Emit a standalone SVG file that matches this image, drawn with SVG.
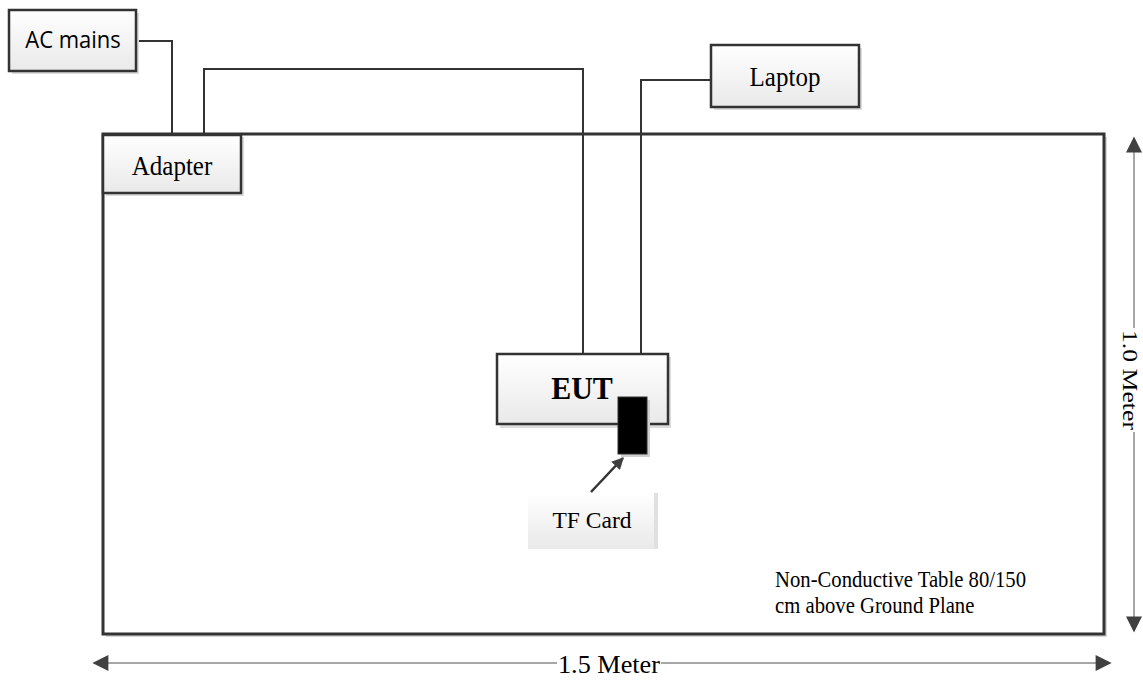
<svg xmlns="http://www.w3.org/2000/svg" width="1143" height="680" viewBox="0 0 1143 680">
<defs>
<linearGradient id="g" x1="0" y1="0" x2="0" y2="1">
<stop offset="0" stop-color="#ffffff"/>
<stop offset="1" stop-color="#e9e9e9"/>
</linearGradient>
<marker id="ah" viewBox="0 0 10 10" refX="9" refY="5" markerWidth="12" markerHeight="12" markerUnits="userSpaceOnUse" orient="auto-start-reverse">
<path d="M0,0 L10,5 L0,10 z" fill="#404040"/>
</marker>
<marker id="dim" viewBox="0 0 10 10" refX="9" refY="5" markerWidth="18" markerHeight="16" markerUnits="userSpaceOnUse" orient="auto-start-reverse">
<path d="M0,0 L10,5 L0,10 z" fill="#404040"/>
</marker>
</defs>
<style>
.box{fill:url(#g);stroke:#333;stroke-width:2.5}
.sh{fill:#dcdcdc}
.wire{fill:none;stroke:#333;stroke-width:2}
.serif{font-family:"Liberation Serif","Times New Roman",serif;fill:#000}
.sans{font-family:"Open Sans","Liberation Sans",sans-serif;fill:#000}
.dimline{stroke:#8a8a8a;stroke-width:1.5;fill:none}
</style>
<rect width="1143" height="680" fill="#fff"/>

<g id="table">
<rect x="106" y="137" width="1001" height="500" fill="#d8d8d8"/>
<rect x="103" y="134" width="1001" height="500" fill="#fff" stroke="#333" stroke-width="3"/>
<text class="serif" transform="translate(775,587) scale(1,1.1)" font-size="20.7">Non-Conductive Table 80/150</text>
<text class="serif" transform="translate(775,613) scale(1,1.1)" font-size="20.7">cm above Ground Plane</text>
</g>

<g id="connectors">
<path class="wire" d="M136,41 H172 V134"/>
<path class="wire" d="M204,134 V69 H583 V354"/>
<path class="wire" d="M711,80 H641 V354"/>
<line x1="591" y1="492" x2="623" y2="458" stroke="#333" stroke-width="2.5" marker-end="url(#ah)"/>
</g>

<g id="ac-mains">
<rect class="sh" x="12" y="13" width="127" height="61"/>
<rect class="box" x="9" y="10" width="127" height="61"/>
<text class="sans" transform="translate(73,48) scale(1,1.1)" font-size="22" text-anchor="middle">AC mains</text>
</g>

<g id="adapter">
<rect class="sh" x="106" y="137" width="138" height="59"/>
<rect class="box" x="103" y="135" width="138" height="58"/>
<text class="serif" transform="translate(172,175) scale(1,1.12)" font-size="25" text-anchor="middle">Adapter</text>
</g>

<g id="laptop">
<rect class="sh" x="714" y="48" width="148" height="62"/>
<rect class="box" x="711" y="45" width="148" height="62"/>
<text class="serif" transform="translate(785,86) scale(1,1.12)" font-size="25" text-anchor="middle">Laptop</text>
</g>

<g id="eut">
<rect class="sh" x="500" y="357" width="171" height="71"/>
<rect class="box" x="497" y="354" width="171" height="70"/>
<text class="serif" transform="translate(582,399) scale(1,1.08)" font-size="30" font-weight="bold" text-anchor="middle">EUT</text>
</g>

<g id="tf-slot">
<rect x="621" y="400" width="29" height="57" fill="#d0d0d0"/>
<rect x="618" y="397" width="29" height="57" fill="#000" stroke="#333" stroke-width="1"/>
</g>

<g id="tf-card">
<rect x="528" y="493" width="130" height="56" fill="url(#g)"/>
<rect x="654" y="493" width="4" height="56" fill="#e0e0e0"/>
<text class="serif" x="592" y="528" font-size="23.5" text-anchor="middle">TF Card</text>
</g>

<g id="dim-height">
<line class="dimline" x1="1134" y1="138" x2="1134" y2="328" marker-start="url(#dim)"/>
<line class="dimline" x1="1134" y1="432" x2="1134" y2="631" marker-end="url(#dim)"/>
<text class="serif" transform="translate(1123,380) rotate(90)" font-size="22" text-anchor="middle" textLength="100" lengthAdjust="spacingAndGlyphs">1.0 Meter</text>
</g>

<g id="dim-width">
<line class="dimline" x1="94" y1="663" x2="557" y2="663" marker-start="url(#dim)"/>
<line class="dimline" x1="661" y1="663" x2="1110" y2="663" marker-end="url(#dim)"/>
<text class="serif" x="609" y="673" font-size="26" text-anchor="middle" textLength="102" lengthAdjust="spacingAndGlyphs">1.5 Meter</text>
</g>
</svg>
